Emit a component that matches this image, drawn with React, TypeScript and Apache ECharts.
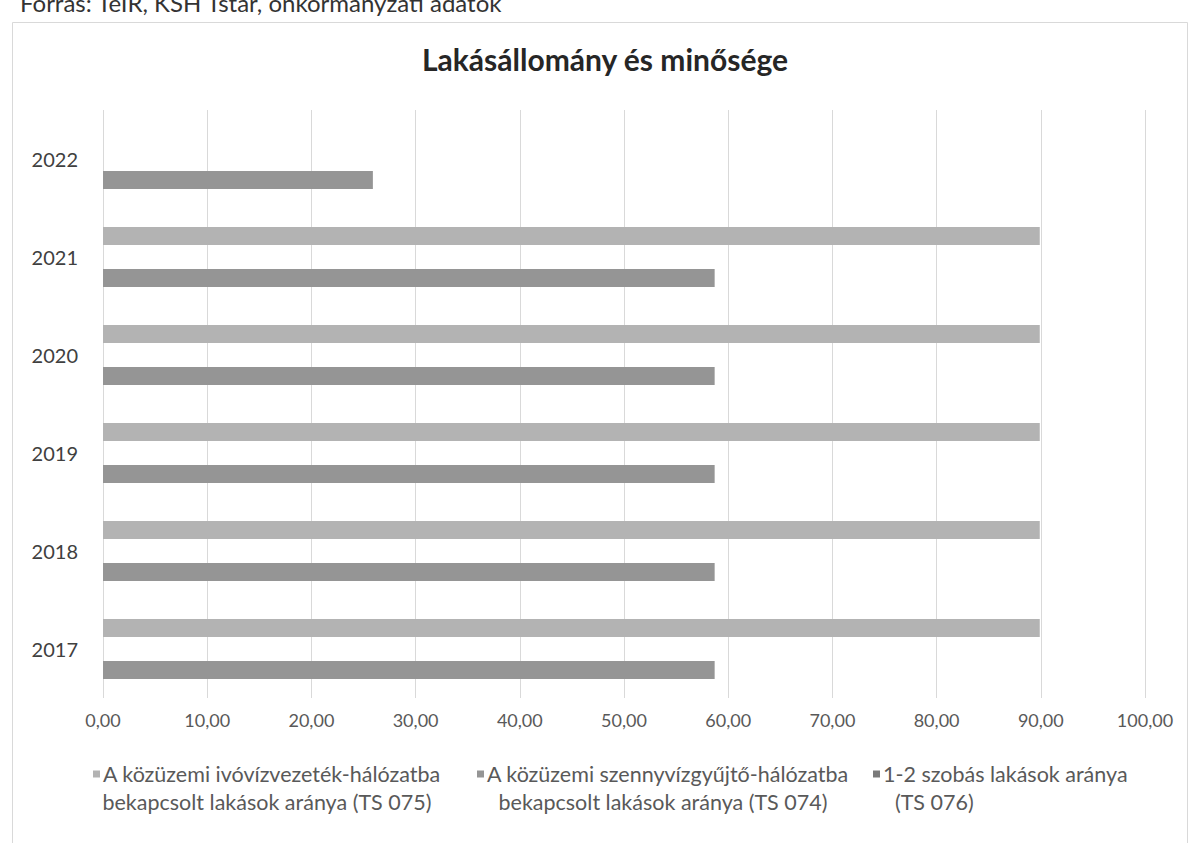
import React, { useEffect, useRef } from "react";
import * as echarts from "echarts";

const years = ["2017", "2018", "2019", "2020", "2021", "2022"];
const ivovizValues = [89.9, 89.9, 89.9, 89.9, 89.9, null];
const szennyvizValues = [58.7, 58.7, 58.7, 58.7, 58.7, 25.9];
const szobasValues = [null, null, null, null, null, null];
const xTicks = [0, 10, 20, 30, 40, 50, 60, 70, 80, 90, 100];

const nameIvo = "A közüzemi ivóvízvezeték-hálózatba bekapcsolt lakások aránya (TS 075)";
const nameSzenny = "A közüzemi szennyvízgyűjtő-hálózatba bekapcsolt lakások aránya (TS 074)";
const nameSzobas = "1-2 szobás lakások aránya (TS 076)";

const colIvo = "#b3b3b3";
const colSzenny = "#959595";
const colSzobas = "#7a7a7a";

const FONT = "Lato, 'Open Sans', sans-serif";
const LEG_FS = 21.5;

function legendFor(name: string, color: string, left: number, l1: string, l2: string, l2align: string, l2pad: number) {
  return {
    data: [name],
    left,
    top: 760,
    padding: 0,
    icon: "rect",
    itemWidth: 0,
    itemHeight: 0,
    itemGap: 0,
    selectedMode: false,
    formatter: () => `{m|}{a|${l1}}\n{c|${l2}}`,
    textStyle: {
      fontFamily: FONT,
      fontSize: LEG_FS,
      color: "#595959",
      lineHeight: 28,
      rich: {
        m: { width: 7, height: 7, backgroundColor: color },
        a: { fontFamily: FONT, fontSize: LEG_FS, color: "#595959", padding: [0, 0, 0, 3], lineHeight: 28 },
        c: { fontFamily: FONT, fontSize: LEG_FS, color: "#595959", align: l2align, padding: [0, 0, 0, l2pad], lineHeight: 28 },
      },
    },
  };
}

export default function App() {
  const ref = useRef<HTMLDivElement>(null);
  useEffect(() => {
    if (!ref.current) return;
    const chart = echarts.init(ref.current, undefined, { renderer: "svg" });
    chart.setOption({
      animation: false,
      backgroundColor: "#ffffff",
      title: {
        text: "Lakásállomány és minősége",
        left: 422,
        top: 44,
        padding: 0,
        textStyle: { fontFamily: FONT, fontSize: 30, fontWeight: "bold", color: "#262626" },
      },
      graphic: [
        {
          type: "rect",
          shape: { x: 12.5, y: 22.5, width: 1175, height: 830 },
          style: { fill: "none", stroke: "#d9d9d9", lineWidth: 1 },
          silent: true,
        },
        {
          type: "text",
          left: 20,
          top: -10,
          style: {
            text: "Forrás: TeIR, KSH Tstar, önkormányzati adatok",
            fontFamily: FONT,
            fontSize: 24,
            fill: "#333333",
          },
        },
      ],
      legend: [
        legendFor(nameIvo, colIvo, 88, "A közüzemi ivóvízvezeték-hálózatba", "bekapcsolt lakások aránya (TS 075)", "center", 0),
        legendFor(nameSzenny, colSzenny, 472, "A közüzemi szennyvízgyűjtő-hálózatba", "bekapcsolt lakások aránya (TS 074)", "center", 0),
        legendFor(nameSzobas, colSzobas, 868, "1-2 szobás lakások aránya", "(TS 076)", "left", 22),
      ],
      grid: { left: 103, right: 52, top: 110, bottom: 145, containLabel: false },
      xAxis: {
        type: "value",
        min: xTicks[0],
        max: xTicks[xTicks.length - 1],
        interval: 10,
        axisLine: { show: false },
        axisTick: { show: false },
        splitLine: { show: true, lineStyle: { color: "#d9d9d9", width: 1 } },
        axisLabel: {
          fontFamily: FONT,
          fontSize: 18,
          color: "#595959",
          margin: 13,
          formatter: (v: number) => v.toFixed(2).replace(".", ","),
        },
      },
      yAxis: {
        type: "category",
        data: years,
        axisLine: { show: false },
        axisTick: { show: false },
        splitLine: { show: false },
        axisLabel: { fontFamily: FONT, fontSize: 20, color: "#404040", margin: 25 },
      },
      series: [
        {
          name: nameIvo,
          type: "bar",
          data: ivovizValues,
          barWidth: 18,
          barGap: "16%",
          itemStyle: { color: colIvo },
        },
        {
          name: nameSzobas,
          type: "bar",
          data: szobasValues,
          barWidth: 18,
          barGap: "16%",
          itemStyle: { color: colSzobas },
        },
        {
          name: nameSzenny,
          type: "bar",
          data: szennyvizValues,
          barWidth: 18,
          barGap: "16%",
          itemStyle: { color: colSzenny },
        },
      ],
    });
    return () => chart.dispose();
  }, []);
  return (
    <div
      ref={ref}
      style={{ position: "fixed", left: 0, top: 0, width: 1197, height: 843 }}
    />
  );
}
